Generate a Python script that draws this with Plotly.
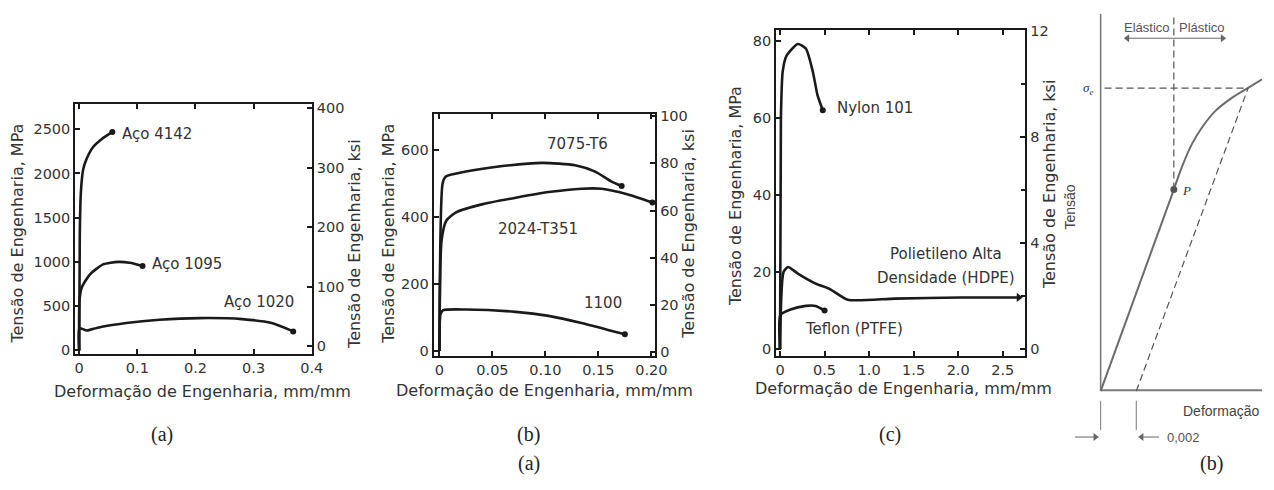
import plotly.graph_objects as go

W, H = 1274, 490


def px(x):
    return x / W


def py(y):
    return 1 - y / H


# ---------------- data ----------------
# Panel (a) steels (strain mm/mm, stress MPa)
a_4142_x = [0, 0.001, 0.003, 0.007, 0.013, 0.024, 0.039, 0.057]
a_4142_y = [0, 1300, 1800, 2050, 2170, 2300, 2390, 2470]
a_1095_x = [0, 0.0005, 0.0045, 0.019, 0.041, 0.067, 0.087, 0.109]
a_1095_y = [0, 560, 714, 862, 972, 1001, 990, 954]
a_1020_x = [0, 0.0005, 0.013, 0.030, 0.081, 0.138, 0.206, 0.28, 0.331, 0.368]
a_1020_y = [0, 250, 225, 254, 309, 346, 365, 354, 309, 215]
a_xticks = [0, 0.1, 0.2, 0.3, 0.4]
a_xticktext = ["0", "0.1", "0.2", "0.3", "0.4"]
a_yticks = [0, 500, 1000, 1500, 2000, 2500]
a_y2ticks = [0, 100, 200, 300, 400]

# Panel (b) aluminium alloys
b_7075_x = [0, 0.003, 0.006, 0.025, 0.056, 0.097, 0.128, 0.147, 0.162, 0.172]
b_7075_y = [0, 500, 520, 535, 550, 561, 554, 535, 506, 492]
b_2024_x = [0, 0.002, 0.0065, 0.016, 0.041, 0.072, 0.103, 0.134, 0.153, 0.178, 0.201]
b_2024_y = [0, 330, 389, 414, 438, 457, 474, 484, 484, 467, 443]
b_1100_x = [0, 0.001, 0.0035, 0.025, 0.072, 0.103, 0.134, 0.175]
b_1100_y = [0, 110, 122, 124, 117, 105, 84, 50]
b_xticks = [0, 0.05, 0.10, 0.15, 0.20]
b_xticktext = ["0", "0.05", "0.10", "0.15", "0.20"]
b_yticks = [0, 200, 400, 600]
b_y2ticks = [0, 20, 40, 60, 80, 100]

# Panel (c) polymers
c_nylon_x = [0, 0.01, 0.03, 0.07, 0.2, 0.29, 0.37, 0.42, 0.48]
c_nylon_y = [0, 60, 72, 76, 79.2, 78, 71.8, 66, 62]
c_hdpe_x = [0, 0.04, 0.09, 0.2, 0.4, 0.55, 0.76, 1.29, 2.03, 2.68]
c_hdpe_y = [0, 20, 21.3, 19.6, 17, 15.7, 12.8, 13.1, 13.4, 13.4]
c_ptfe_x = [0, 0.005, 0.11, 0.29, 0.4, 0.5]
c_ptfe_y = [0, 8.9, 10.2, 11.2, 11.2, 10]
c_xticks = [0, 0.5, 1.0, 1.5, 2.0, 2.5]
c_xticktext = ["0", "0.5", "1.0", "1.5", "2.0", "2.5"]
c_yticks = [0, 20, 40, 60, 80]
c_y2ticks = [0, 4, 8, 12]

# Panel (d) schematic (strain, normalised stress sigma/sigma_e)
d_offset = 0.002
d_elastic_x = [0, 0.00411]
d_elastic_y = [0, 0.665]
d_plastic_x = [0.00411, 0.00457, 0.00513, 0.00569, 0.00643, 0.00735, 0.00828, 0.00906]
d_plastic_y = [0.665, 0.741, 0.816, 0.870, 0.924, 0.967, 1.001, 1.029]
d_yield_x = 0.00828
d_top = 1.245
d_xmax = 0.00906

TXT = "#333333"
LINE = "#1a1a1a"
FONT = "DejaVu Sans"

fig = go.Figure()


def curve(x, y, xa, ya, end="circle"):
    fig.add_trace(go.Scatter(x=x, y=y, xaxis=xa, yaxis=ya, mode="lines",
                             line=dict(color=LINE, width=2.6, shape="spline", smoothing=0.6),
                             hoverinfo="skip", showlegend=False))
    fig.add_trace(go.Scatter(x=[x[-1]], y=[y[-1]], xaxis=xa, yaxis=ya, mode="markers",
                             marker=dict(color=LINE, size=6 if end == "circle" else 8,
                                         symbol=end),
                             hoverinfo="skip", showlegend=False))


def ghost(xa, ya):
    # empty trace so that the secondary (ksi) axis gets drawn
    fig.add_trace(go.Scatter(x=[None], y=[None], xaxis=xa, yaxis=ya, mode="lines",
                             hoverinfo="skip", showlegend=False))


curve(a_4142_x, a_4142_y, "x", "y")
curve(a_1095_x, a_1095_y, "x", "y")
curve(a_1020_x, a_1020_y, "x", "y")
ghost("x", "y2")
curve(b_7075_x, b_7075_y, "x2", "y3")
curve(b_2024_x, b_2024_y, "x2", "y3")
curve(b_1100_x, b_1100_y, "x2", "y3")
ghost("x2", "y4")
curve(c_nylon_x, c_nylon_y, "x3", "y5")
curve(c_hdpe_x, c_hdpe_y, "x3", "y5", end="triangle-right")
curve(c_ptfe_x, c_ptfe_y, "x3", "y5")
ghost("x3", "y6")

# panel (d)
GR = "#6b6b6b"
AXG = "#7a7a7a"


def dline(x, y, color=GR, width=2, dash=None, shape="linear"):
    fig.add_trace(go.Scatter(x=x, y=y, xaxis="x4", yaxis="y7", mode="lines",
                             line=dict(color=color, width=width, dash=dash, shape=shape),
                             hoverinfo="skip", showlegend=False, cliponaxis=False))


dline([0, 0], [0, d_top], color=AXG, width=1.6)
dline([0, d_offset, d_xmax], [0.003, 0.003, 0.003], color=AXG, width=2)
dline(d_elastic_x, d_elastic_y)
dline(d_plastic_x, d_plastic_y, shape="spline")
DASH = "7px,4px"
dline([d_elastic_x[-1], d_elastic_x[-1]], [d_elastic_y[-1], d_top], color="#555", width=1.2, dash=DASH)
dline([0.00022, d_yield_x], [1.0, 1.0], color="#555", width=1.2, dash=DASH)
dline([d_offset, d_yield_x], [0, 1.0], color="#555", width=1.2, dash=DASH)
for xv in [0, d_offset]:
    dline([xv, xv], [-0.032, -0.129], color=AXG, width=1)
fig.add_trace(go.Scatter(x=[d_elastic_x[-1]], y=[d_elastic_y[-1]], xaxis="x4", yaxis="y7",
                         mode="markers", marker=dict(color="#555", size=7),
                         hoverinfo="skip", showlegend=False))


def arrow(x_head, y_head, x_tail, symbol):
    dline([x_tail, x_head], [y_head, y_head], color="#666", width=1)
    fig.add_trace(go.Scatter(x=[x_head], y=[y_head], xaxis="x4", yaxis="y7", mode="markers",
                             marker=dict(symbol=symbol, size=7, color="#666",
                                         line=dict(width=0)),
                             hoverinfo="skip", showlegend=False))


arrow(0.00150, 1.1645, d_elastic_x[-1], "triangle-left")
arrow(0.00685, 1.1645, d_elastic_x[-1], "triangle-right")
arrow(-0.00030, -0.1516, -0.00144, "triangle-right")
arrow(0.00230, -0.1516, 0.00328, "triangle-left")

ax_common = dict(showgrid=False, zeroline=False, showline=True, linecolor=LINE, linewidth=2,
                 ticks="inside", ticklen=5, tickwidth=1.5, tickcolor=LINE,
                 tickfont=dict(family=FONT, size=14.5, color=TXT))

fig.update_layout(
    width=W, height=H, margin=dict(l=0, r=0, t=0, b=0),
    paper_bgcolor="white", plot_bgcolor="rgba(0,0,0,0)",
    xaxis=dict(domain=[px(75), px(314)], range=[-0.0068, 0.4], anchor="y",
               tickvals=a_xticks, ticktext=a_xticktext, mirror="ticks", **ax_common),
    yaxis=dict(domain=[py(355), py(99)], range=[-41, 2788], anchor="x",
               tickvals=a_yticks, **ax_common),
    yaxis2=dict(overlaying="y", side="right", anchor="x", range=[-13, 407],
                tickvals=a_y2ticks, **ax_common),
    xaxis2=dict(domain=[px(437), px(661)], range=[-0.0056, 0.2037], anchor="y3",
                tickvals=b_xticks, ticktext=b_xticktext, mirror="ticks", **ax_common),
    yaxis3=dict(domain=[py(356.7), py(109.3)], range=[-13.7, 707], anchor="x2",
                tickvals=b_yticks, **ax_common),
    yaxis4=dict(overlaying="y3", side="right", anchor="x2", range=[-1.5, 101],
                tickvals=b_y2ticks, **ax_common),
    xaxis3=dict(domain=[px(783), px(1035)], range=[-0.045, 2.755], anchor="y5",
                tickvals=c_xticks, ticktext=c_xticktext, mirror="ticks", **ax_common),
    yaxis5=dict(domain=[py(357), py(24)], range=[-1.8, 82.7], anchor="x3",
                tickvals=c_yticks, **ax_common),
    yaxis6=dict(overlaying="y5", side="right", anchor="x3", range=[-0.26, 12.02],
                tickvals=c_y2ticks,
                minor=dict(dtick=2, ticks="inside", ticklen=4, tickcolor=LINE, tickwidth=1.5),
                **ax_common),
    xaxis4=dict(domain=[px(1075), 1.0], range=[-0.002, d_xmax], anchor="y7", visible=False),
    yaxis7=dict(domain=[py(445), py(7)], range=[-0.168, d_top], anchor="x4", visible=False),
)

ann = []


def A(text, x, y, xref="paper", yref="paper", size=16, angle=0, xanchor="center",
      family=FONT, color=TXT):
    ann.append(dict(text=text, x=x, y=y, xref=xref, yref=yref, showarrow=False,
                    textangle=angle, xanchor=xanchor, yanchor="middle",
                    font=dict(family=family, size=size, color=color)))


ttl_mpa = "Tensão de Engenharia, MPa"
ttl_ksi = "Tensão de Engenharia, ksi"
ttl_x = "Deformação de Engenharia, mm/mm"
# panel (a)
A(ttl_mpa, px(17), py(232), angle=-90)
A(ttl_ksi, px(357), py(242), angle=-90)
A(ttl_x, px(204), py(393))
A("Aço 4142", 0.07, 2445, "x", "y", size=15, xanchor="left")
A("Aço 1095", 0.121, 976, "x", "y", size=15, xanchor="left")
A("Aço 1020", 0.245, 545, "x", "y", size=15, xanchor="left")
# panel (b)
A(ttl_mpa, px(392), py(232), angle=-90)
A(ttl_ksi, px(695), py(232), angle=-90)
A(ttl_x, px(549), py(392))
A("7075-T6", 0.1, 617, "x2", "y3", size=15, xanchor="left")
A("2024-T351", 0.0533, 364, "x2", "y3", size=15, xanchor="left")
A("1100", 0.1346, 143, "x2", "y3", size=15, xanchor="left")
# panel (c)
A(ttl_mpa, px(742), py(193), angle=-90)
A(ttl_ksi, px(1060), py(181), angle=-90)
A(ttl_x, px(912), py(390))
A("Nylon 101", 0.622, 62.7, "x3", "y5", size=15, xanchor="left")
A("Polietileno Alta", 1.867, 24.6, "x3", "y5", size=15)
A("Densidade (HDPE)", 1.867, 18.5, "x3", "y5", size=15)
A("Teflon (PTFE)", 0.256, 5.1, "x3", "y5", size=15, xanchor="left")
# captions
SER = "Liberation Serif"
A("(a)", px(163), py(437), size=20, family=SER, color="#222")
A("(b)", px(533), py(437), size=20, family=SER, color="#222")
A("(c)", px(898), py(437), size=20, family=SER, color="#222")
A("(a)", px(533), py(467), size=20, family=SER, color="#222")
A("(b)", px(1223), py(467), size=20, family=SER, color="#222")
# panel (d) texts
ARI = "Liberation Sans"
A("Elástico", 0.00261, 1.201, "x4", "y7", size=13, family=ARI, color="#555")
A("Plástico", 0.00567, 1.201, "x4", "y7", size=13, family=ARI, color="#555")
A("<i>σ<sub>e</sub></i>", -0.00072, 1.0, "x4", "y7", size=13, family=SER, color="#333")
A("<i>P</i>", 0.00483, 0.661, "x4", "y7", size=13, family=SER, color="#333")
A("Tensão", -0.00172, 0.606, "x4", "y7", size=14, angle=-90, family=ARI, color="#444")
A("Deformação", 0.00678, -0.0645, "x4", "y7", size=14, family=ARI, color="#444")
A("0,002", 0.0036, -0.1516, "x4", "y7", size=13, family=ARI, color="#555", xanchor="left")

fig.update_layout(annotations=ann)

fig.write_html("out.html", config={"displayModeBar": False},
               post_script="document.body.style.margin='0';")
